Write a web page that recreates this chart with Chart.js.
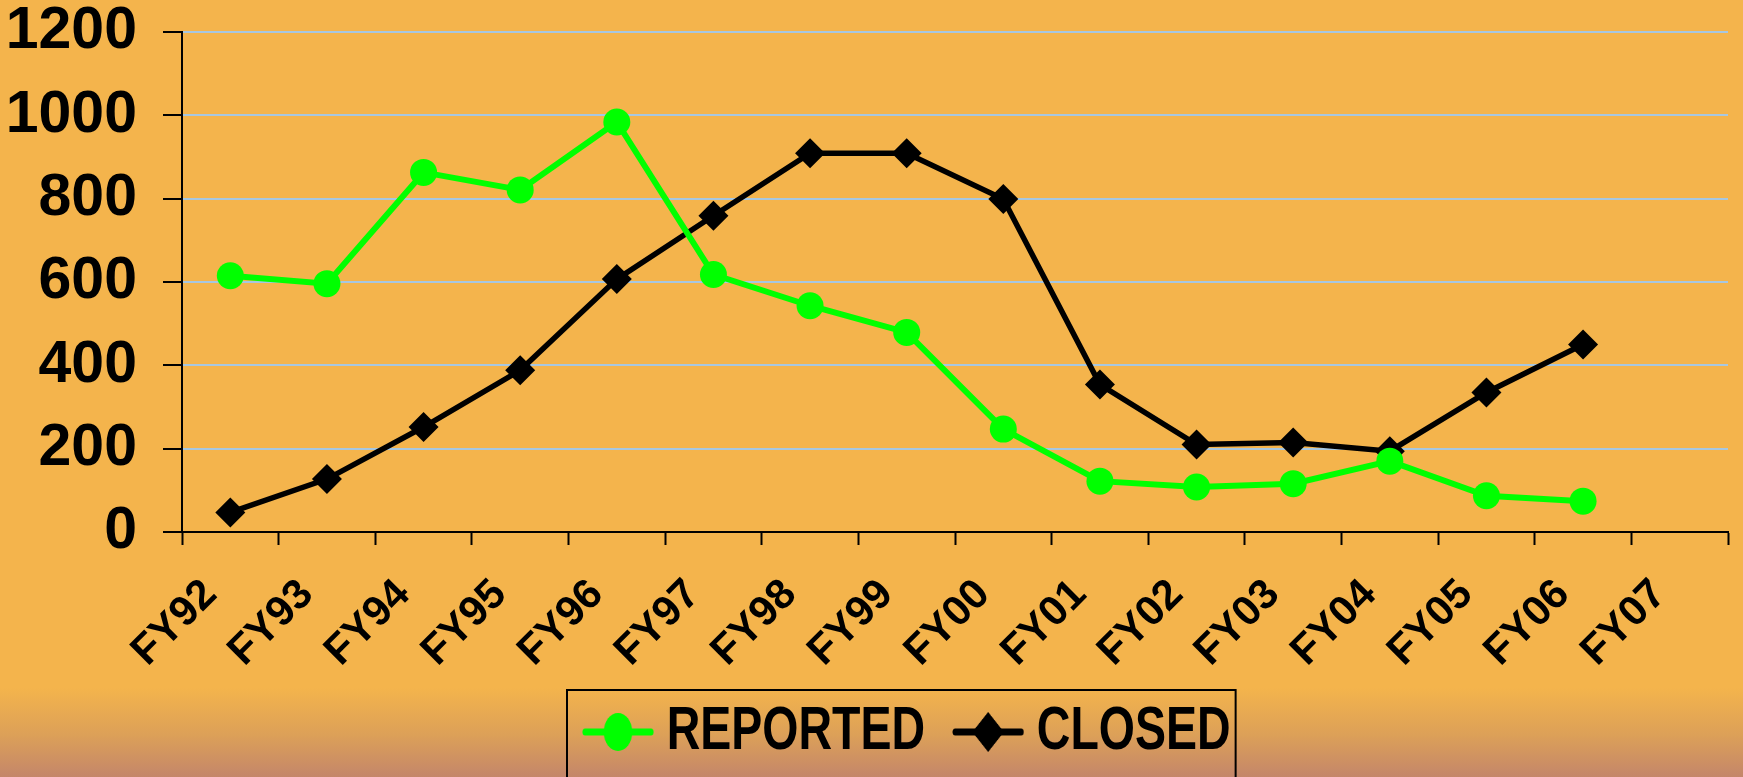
<!DOCTYPE html>
<html>
<head>
<meta charset="utf-8">
<script src="https://cdn.jsdelivr.net/npm/chart.js@4.4.1/dist/chart.umd.min.js"></script>
<style>
    html, body { margin: 0; padding: 0; overflow: hidden; }
    body {
        width: 1743px; height: 777px;
        background: linear-gradient(to bottom, #F4B44C 0px, #F4B44C 688px, #DCA058 735px, #C4866A 777px);
    }
    #wrap { position: relative; width: 1743px; height: 777px; }
</style>
</head>
<body>
<div id="wrap"><canvas id="chart"></canvas></div>
<script>
// Datos
const years = ['FY92', 'FY93', 'FY94', 'FY95', 'FY96', 'FY97', 'FY98', 'FY99',
               'FY00', 'FY01', 'FY02', 'FY03', 'FY04', 'FY05', 'FY06', 'FY07'];
const reported = [615, 596, 863, 821, 984, 618, 543, 479, 247, 122, 108, 116, 170, 87, 74, null];
const closed = [47, 127, 252, 388, 607, 759, 909, 909, 799, 354, 210, 215, 194, 335, 450, null];
const yTicks = [0, 200, 400, 600, 800, 1000, 1200];

// Leyenda comprimida horizontalmente (como en la imagen original)
const legendSquash = 0.75;
const legendLeft = 582;
const legendMidY = 732;
const legendFrameLeft = 567;
const legendFrameTop = 690;

// Simbolo de leyenda: linea + marcador
function legendSymbol(color, shape) {
    const c = document.createElement('canvas');
    c.width = 96; c.height = 44;
    const g = c.getContext('2d');
    g.strokeStyle = color;
    g.lineWidth = 7;
    g.lineCap = 'round';
    g.beginPath(); g.moveTo(4, 22); g.lineTo(92, 22); g.stroke();
    g.fillStyle = color;
    g.beginPath();
    if (shape === 'circle') {
        g.arc(48, 22, 19, 0, Math.PI * 2);
    } else {
        g.moveTo(48, 2); g.lineTo(69, 22); g.lineTo(48, 42); g.lineTo(27, 22); g.closePath();
    }
    g.fill();
    return c;
}

// Ajustes de la leyenda: sin altura reservada, comprimida y con marco
const legendTweak = {
    id: 'legendTweak',
    beforeInit(chart) {
        const lg = chart.legend;
        if (!lg) return;
        const fit = lg.fit;
        const draw = lg.draw;
        lg.fit = function () { fit.call(this); this.height = 0; };
        lg.draw = function () {
            const boxes = this.legendHitBoxes;
            if (!boxes || !boxes.length) return;
            const c = this.ctx;
            const first = boxes[0], last = boxes[boxes.length - 1];
            const tx = legendLeft - legendSquash * (first.left - 14);
            const ty = legendMidY - (first.top + first.height / 2);
            const savedBottom = this.bottom;
            this.bottom = this.top + 400;
            c.save();
            c.translate(tx, ty);
            c.scale(legendSquash, 1);
            draw.call(this);
            c.restore();
            this.bottom = savedBottom;
            const right = tx + legendSquash * (last.left + last.width) + 5;
            c.save();
            c.strokeStyle = '#000';
            c.lineWidth = 2;
            c.strokeRect(legendFrameLeft, legendFrameTop, right - legendFrameLeft, 200);
            c.restore();
        };
    }
};

const ctx = document.getElementById('chart').getContext('2d');
const chart = new Chart(ctx, {
    type: 'line',
    data: {
        labels: years,
        datasets: [
            {
                label: 'REPORTED',
                data: reported,
                borderColor: '#00FF00',
                backgroundColor: '#00FF00',
                borderWidth: 6,
                pointStyle: 'circle',
                pointRadius: 13.5,
                pointBorderWidth: 0,
                pointStyleImg: legendSymbol('#00FF00', 'circle')
            },
            {
                label: 'CLOSED',
                data: closed,
                borderColor: '#000000',
                backgroundColor: '#000000',
                borderWidth: 5.5,
                pointStyle: 'rectRot',
                pointRadius: 15,
                pointBorderWidth: 0,
                pointStyleImg: legendSymbol('#000000', 'diamond')
            }
        ]
    },
    options: {
        responsive: true,
        maintainAspectRatio: false,
        animation: false,
        layout: { padding: { top: 32, right: 0, left: 0, bottom: 0 } },
        scales: {
            x: {
                offset: true,
                afterFit: scale => {
                    scale.height = 245;
                    scale.paddingLeft = 0;
                    scale.paddingRight = 0;
                },
                grid: {
                    offset: true,
                    drawOnChartArea: false,
                    drawTicks: true,
                    tickLength: 13,
                    tickColor: '#000',
                    tickWidth: 2
                },
                border: { color: '#000', width: 2 },
                ticks: {
                    color: '#000',
                    maxRotation: 45,
                    minRotation: 45,
                    padding: 25,
                    labelOffset: -20,
                    font: { family: 'Arial, "Liberation Sans", sans-serif', size: 42, weight: 'bold' }
                }
            },
            y: {
                min: 0,
                max: 1200,
                afterBuildTicks: axis => { axis.ticks = yTicks.map(v => ({ value: v })); },
                afterFit: scale => {
                    scale.width = 182;
                    scale.paddingTop = 0;
                    scale.paddingBottom = 0;
                },
                grid: {
                    color: '#A7C7E0',
                    lineWidth: 2,
                    tickLength: 19,
                    tickColor: '#000',
                    tickWidth: 2
                },
                border: { color: '#000', width: 2 },
                ticks: {
                    color: '#000',
                    padding: 26,
                    callback: v => String(v),
                    font: { family: 'Arial, "Liberation Sans", sans-serif', size: 59, weight: 'bold' }
                }
            }
        },
        plugins: {
            legend: {
                position: 'bottom',
                labels: {
                    color: '#000',
                    usePointStyle: true,
                    pointStyleWidth: 68,
                    padding: 50,
                    font: { family: 'Arial, "Liberation Sans", sans-serif', size: 62, weight: 'bold' },
                    generateLabels: chart => chart.data.datasets.map((ds, i) => ({
                        text: ds.label,
                        pointStyle: ds.pointStyleImg,
                        fillStyle: ds.backgroundColor,
                        strokeStyle: ds.borderColor,
                        lineWidth: 0,
                        fontColor: '#000',
                        datasetIndex: i,
                        hidden: false
                    }))
                }
            },
            tooltip: { enabled: false }
        }
    },
    plugins: [legendTweak]
});
</script>
</body>
</html>
